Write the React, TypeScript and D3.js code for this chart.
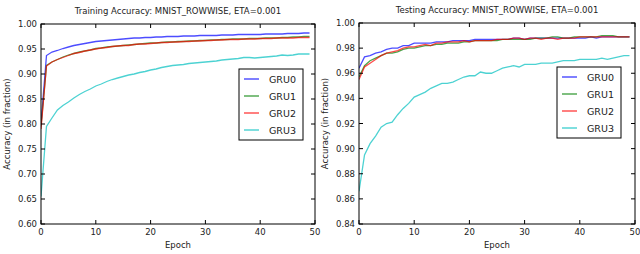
import * as d3 from "d3";

const epochs = d3.range(0, 50);
const seriesNames = ["GRU0", "GRU1", "GRU2", "GRU3"];
const seriesColors = ["#0000ff", "#008000", "#ff0000", "#00bfbf"];

const trainGru0 = [0.800, 0.937, 0.944, 0.947, 0.951, 0.954, 0.957, 0.959, 0.961, 0.963, 0.965, 0.966, 0.967, 0.968, 0.969, 0.970, 0.971, 0.972, 0.972, 0.973, 0.973, 0.974, 0.974, 0.975, 0.975, 0.975, 0.976, 0.976, 0.976, 0.977, 0.977, 0.977, 0.977, 0.978, 0.978, 0.978, 0.979, 0.979, 0.979, 0.979, 0.979, 0.980, 0.980, 0.980, 0.980, 0.981, 0.981, 0.981, 0.982, 0.982];
const trainGru1 = [0.795, 0.917, 0.924, 0.929, 0.934, 0.938, 0.941, 0.944, 0.946, 0.948, 0.951, 0.952, 0.954, 0.955, 0.956, 0.957, 0.958, 0.959, 0.960, 0.961, 0.962, 0.962, 0.963, 0.964, 0.964, 0.965, 0.965, 0.966, 0.966, 0.967, 0.967, 0.968, 0.968, 0.969, 0.969, 0.970, 0.970, 0.970, 0.971, 0.971, 0.971, 0.972, 0.972, 0.972, 0.973, 0.973, 0.974, 0.974, 0.975, 0.975];
const trainGru2 = [0.790, 0.916, 0.924, 0.929, 0.933, 0.937, 0.941, 0.943, 0.946, 0.948, 0.950, 0.952, 0.953, 0.955, 0.956, 0.957, 0.957, 0.959, 0.960, 0.960, 0.961, 0.962, 0.963, 0.963, 0.964, 0.964, 0.965, 0.965, 0.966, 0.966, 0.967, 0.967, 0.968, 0.968, 0.969, 0.969, 0.969, 0.970, 0.970, 0.970, 0.971, 0.971, 0.971, 0.972, 0.972, 0.972, 0.972, 0.973, 0.973, 0.973];
const trainGru3 = [0.655, 0.795, 0.812, 0.828, 0.837, 0.844, 0.852, 0.859, 0.865, 0.870, 0.876, 0.880, 0.885, 0.889, 0.892, 0.895, 0.898, 0.900, 0.903, 0.905, 0.908, 0.910, 0.913, 0.915, 0.917, 0.918, 0.919, 0.921, 0.922, 0.923, 0.924, 0.925, 0.926, 0.928, 0.929, 0.930, 0.931, 0.933, 0.933, 0.932, 0.933, 0.934, 0.935, 0.936, 0.938, 0.937, 0.938, 0.940, 0.940, 0.940];

const testGru0 = [0.964, 0.973, 0.974, 0.976, 0.977, 0.979, 0.980, 0.980, 0.982, 0.982, 0.984, 0.984, 0.984, 0.984, 0.985, 0.985, 0.985, 0.986, 0.986, 0.986, 0.986, 0.987, 0.987, 0.987, 0.987, 0.987, 0.987, 0.987, 0.988, 0.988, 0.987, 0.988, 0.988, 0.988, 0.988, 0.988, 0.988, 0.988, 0.988, 0.988, 0.988, 0.988, 0.989, 0.988, 0.989, 0.989, 0.989, 0.989, 0.989, 0.989];
const testGru1 = [0.957, 0.966, 0.970, 0.972, 0.974, 0.976, 0.976, 0.977, 0.979, 0.980, 0.980, 0.981, 0.982, 0.982, 0.983, 0.983, 0.984, 0.984, 0.984, 0.985, 0.985, 0.986, 0.986, 0.986, 0.986, 0.986, 0.987, 0.987, 0.987, 0.987, 0.987, 0.987, 0.988, 0.988, 0.988, 0.989, 0.989, 0.988, 0.988, 0.989, 0.989, 0.989, 0.989, 0.989, 0.990, 0.990, 0.990, 0.989, 0.989, 0.989];
const testGru2 = [0.955, 0.965, 0.968, 0.971, 0.974, 0.976, 0.977, 0.978, 0.980, 0.981, 0.981, 0.982, 0.983, 0.982, 0.984, 0.984, 0.985, 0.985, 0.985, 0.986, 0.985, 0.986, 0.986, 0.986, 0.986, 0.987, 0.987, 0.987, 0.988, 0.988, 0.987, 0.988, 0.988, 0.987, 0.988, 0.988, 0.987, 0.988, 0.988, 0.988, 0.989, 0.989, 0.989, 0.989, 0.989, 0.989, 0.989, 0.989, 0.989, 0.989];
const testGru3 = [0.866, 0.895, 0.904, 0.910, 0.917, 0.920, 0.921, 0.927, 0.932, 0.936, 0.941, 0.943, 0.945, 0.948, 0.950, 0.952, 0.952, 0.953, 0.955, 0.957, 0.958, 0.958, 0.961, 0.960, 0.960, 0.962, 0.964, 0.965, 0.966, 0.965, 0.967, 0.967, 0.967, 0.968, 0.968, 0.968, 0.969, 0.970, 0.970, 0.970, 0.971, 0.971, 0.971, 0.971, 0.972, 0.971, 0.972, 0.973, 0.974, 0.974];

const xTicks = [0, 10, 20, 30, 40, 50];
const trainYTicks = [0.6, 0.65, 0.7, 0.75, 0.8, 0.85, 0.9, 0.95, 1.0];
const testYTicks = [0.84, 0.86, 0.88, 0.9, 0.92, 0.94, 0.96, 0.98, 1.0];

const font = "'DejaVu Sans', sans-serif";

type ChartProps = {
  left: number;
  top: number;
  width: number;
  height: number;
  title: string;
  yDomain: [number, number];
  yTicks: number[];
  series: number[][];
  legendX: number;
  legendY: number;
};

const Chart = ({ left, top, width, height, title, yDomain, yTicks, series, legendX, legendY }: ChartProps) => {
  const xScale = d3.scaleLinear().domain([0, 50]).range([0, width]);
  const yScale = d3.scaleLinear().domain(yDomain).range([height, 0]);
  const line = d3
    .line<number>()
    .x((_, i) => xScale(epochs[i]))
    .y((d) => yScale(d));
  const tick = 4;

  return (
    <g transform={`translate(${left},${top})`}>
      <text x={width / 2} y={-10} textAnchor="middle" fontSize={8.5} fontFamily={font} fill="#222">
        {title}
      </text>
      <defs>
        <clipPath id={`clip-${left}`}>
          <rect x={0} y={0} width={width} height={height} />
        </clipPath>
      </defs>
      <g clipPath={`url(#clip-${left})`}>
        {series.map((s, i) => (
          <path key={i} d={line(s) ?? ""} fill="none" stroke={seriesColors[i]} strokeOpacity={0.7} strokeWidth={1.3} />
        ))}
      </g>
      <rect x={0} y={0} width={width} height={height} fill="none" stroke="#000" strokeWidth={1} />
      {xTicks.map((t) => (
        <g key={t}>
          <line x1={xScale(t)} x2={xScale(t)} y1={height} y2={height - tick} stroke="#000" />
          <line x1={xScale(t)} x2={xScale(t)} y1={0} y2={tick} stroke="#000" />
          <text x={xScale(t)} y={height + 11} textAnchor="middle" fontSize={8.5} fontFamily={font} fill="#222">
            {t}
          </text>
        </g>
      ))}
      {yTicks.map((t) => (
        <g key={t}>
          <line x1={0} x2={tick} y1={yScale(t)} y2={yScale(t)} stroke="#000" />
          <line x1={width} x2={width - tick} y1={yScale(t)} y2={yScale(t)} stroke="#000" />
          <text x={-4} y={yScale(t) + 3} textAnchor="end" fontSize={8.5} fontFamily={font} fill="#222">
            {d3.format(".2f")(t)}
          </text>
        </g>
      ))}
      <text x={width / 2} y={height + 24} textAnchor="middle" fontSize={8.5} fontFamily={font} fill="#222">
        Epoch
      </text>
      <text
        transform={`translate(${-31},${height / 2}) rotate(-90)`}
        textAnchor="middle"
        fontSize={8.5}
        fontFamily={font}
        fill="#222"
      >
        Accuracy (in fraction)
      </text>
      <g transform={`translate(${legendX},${legendY})`}>
        <rect x={0} y={0} width={64} height={71} fill="#fff" stroke="#000" strokeWidth={1} />
        {seriesNames.map((name, i) => (
          <g key={name} transform={`translate(0,${10 + i * 17})`}>
            <line x1={5} x2={20} y1={0} y2={0} stroke={seriesColors[i]} strokeOpacity={0.5} strokeWidth={2} />
            <text x={30} y={3.5} fontSize={9.5} fontFamily={font} fill="#222">
              {name}
            </text>
          </g>
        ))}
      </g>
    </g>
  );
};

export default function App() {
  return (
    <svg width={640} height={254} style={{ position: "absolute", left: 0, top: 0, background: "#fff" }}>
      <Chart
        left={41}
        top={24}
        width={274}
        height={200}
        title="Training Accuracy: MNIST_ROWWISE, ETA=0.001"
        yDomain={[0.6, 1.0]}
        yTicks={trainYTicks}
        series={[trainGru0, trainGru1, trainGru2, trainGru3]}
        legendX={198}
        legendY={45}
      />
      <Chart
        left={359}
        top={23}
        width={276}
        height={201}
        title="Testing Accuracy: MNIST_ROWWISE, ETA=0.001"
        yDomain={[0.84, 1.0]}
        yTicks={testYTicks}
        series={[testGru0, testGru1, testGru2, testGru3]}
        legendX={198}
        legendY={44}
      />
    </svg>
  );
}
